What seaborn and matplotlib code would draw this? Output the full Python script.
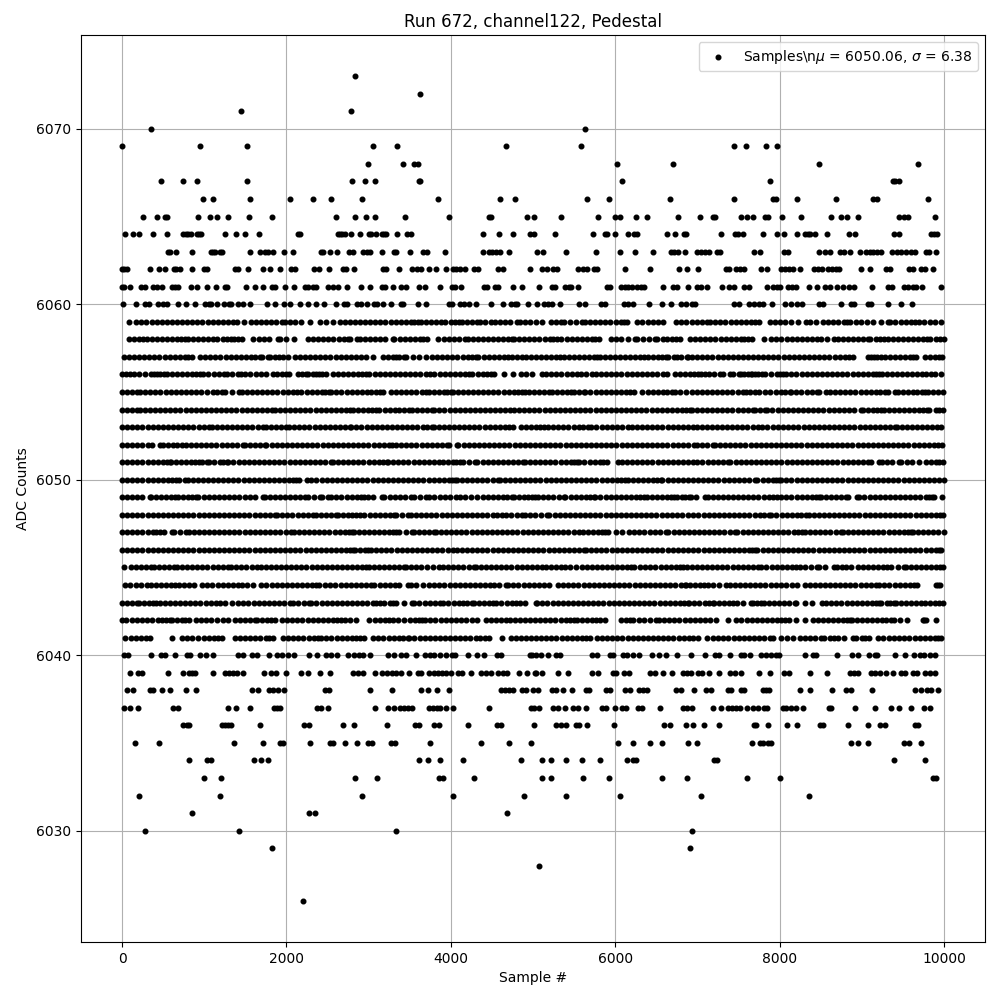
import numpy as np
import pandas as pd
import matplotlib
matplotlib.use('Agg')
import matplotlib.pyplot as plt
import seaborn as sns

# Sample numbers, one list per ADC level
s6073 = [2832]
s6072 = [3620]
s6071 = [1450, 2784]
s6070 = [347, 5633]
s6069 = [0, 953, 1523, 3050, 3341, 4674, 5584, 7451, 7596, 7839, 7972]
s6068 = [2990, 3414, 3547, 3596, 6020, 6699, 8481, 9681]
s6067 = [469, 747, 917, 1523, 2796, 2953, 3074, 3608, 3620, 6081, 7887, 9374, 9410, 9450]
s6066 = [990, 1111, 1559, 2044, 2323, 2541, 2917, 3838, 4602, 4783, 5657, 5924, 6663, 7439, 7919, 7960, 8214, 8687, 9131, 9180, 9802]
s6065 = [250, 420, 525, 550, 929, 1075, 1160, 1293, 1547, 1826, 2602, 2832, 2965, 3074, 3438, 3983, 4464, 4489, 4929, 5014, 5342, 5790, 5996, 6061, 6251, 6384, 6760, 7027, 7184, 7208, 7536, 7608, 7681, 7826, 7863, 8033, 8263, 8626, 8748, 8820, 8954, 9455, 9515, 9564, 9887]
s6064 = [32, 129, 202, 372, 541, 747, 772, 796, 844, 917, 941, 966, 1256, 1390, 1499, 1669, 2141, 2165, 2626, 2650, 2675, 2711, 2784, 2893, 3002, 3026, 3087, 3159, 3184, 3208, 3341, 3462, 3511, 4396, 4589, 4759, 4965, 5014, 5273, 5730, 5875, 5899, 5996, 6154, 6227, 6263, 6627, 6724, 6833, 6857, 7281, 7463, 7499, 7560, 7802, 7972, 8057, 8214, 8311, 8348, 8372, 8432, 8578, 8845, 8917, 9394, 9455, 9838, 9875, 9911]
s6063 = [553, 578, 650, 856, 1087, 1111, 1135, 1196, 1220, 1559, 1681, 1741, 1778, 1838, 1972, 2081, 2420, 2444, 2529, 2614, 2759, 2808, 2929, 2977, 3014, 3159, 3305, 3329, 3499, 3656, 3705, 3923, 4396, 4468, 4505, 4553, 4602, 4711, 5051, 5124, 5402, 5766, 6057, 6239, 6457, 6675, 6711, 6760, 6845, 6990, 7039, 7087, 7136, 7233, 7269, 7693, 7766, 8057, 8105, 8481, 8554, 8614, 8735, 8784, 8857, 8978, 9051, 9099, 9135, 9184, 9232, 9366, 9426, 9475, 9535, 9596, 9644, 9778, 9814, 9899]
s6062 = [0, 24, 60, 335, 444, 517, 626, 650, 707, 856, 1002, 1038, 1378, 1414, 1535, 1717, 1802, 1923, 2056, 2105, 2335, 2396, 2517, 2687, 2723, 2820, 3171, 3208, 3365, 3523, 3583, 3632, 3729, 3814, 3947, 4032, 4068, 4117, 4177, 4286, 4335, 4577, 4638, 4965, 5104, 5172, 5245, 5293, 5548, 5608, 5657, 5742, 5778, 6118, 6421, 6772, 6869, 7002, 7342, 7390, 7475, 7523, 7572, 7778, 7851, 8020, 8069, 8117, 8166, 8251, 8420, 8469, 8517, 8590, 8639, 8687, 8723, 8990, 9103, 9293, 9341, 9572, 9620, 9717, 9766, 9863]
s6061 = [0, 24, 93, 226, 275, 372, 420, 481, 602, 638, 675, 844, 917, 1038, 1147, 1256, 1281, 1511, 1620, 1717, 1826, 1862, 1984, 2093, 2226, 2262, 2323, 2359, 2505, 2565, 2626, 2735, 2905, 3014, 3159, 3196, 3293, 3390, 3450, 3608, 3680, 3874, 4008, 4056, 4129, 4408, 4444, 4541, 4577, 4759, 4868, 5075, 5233, 5269, 5390, 5439, 5463, 5548, 5899, 5936, 6069, 6118, 6154, 6202, 6263, 6311, 6348, 6578, 6699, 6748, 6881, 6990, 7039, 7111, 7305, 7390, 7439, 7572, 7633, 7851, 7923, 7972, 8008, 8105, 8154, 8202, 8360, 8457, 8554, 8614, 8699, 8772, 8845, 8905, 9123, 9317, 9366, 9511, 9560, 9620, 9657, 9729, 9960]
s6060 = [8, 166, 275, 323, 432, 493, 541, 675, 772, 881, 1014, 1063, 1087, 1159, 1244, 1305, 1329, 1414, 1475, 1559, 1766, 1862, 1972, 2044, 2161, 2266, 2359, 2452, 2598, 2699, 2735, 2856, 2905, 2977, 3062, 3099, 3171, 3268, 3390, 3414, 3596, 3693, 3983, 4020, 4117, 4165, 4226, 4311, 4493, 4638, 4735, 4783, 4808, 4941, 5051, 5136, 5184, 5233, 5330, 5560, 5633, 5827, 5875, 6105, 6154, 6215, 6408, 6566, 6675, 6796, 6857, 6930, 6966, 7451, 7511, 7633, 7693, 7754, 7802, 7911, 8069, 8142, 8214, 8275, 8481, 8529, 8748, 8869, 8905, 9075, 9111, 9321, 9475, 9616]
s6059 = [80, 166, 234, 296, 358, 420, 482, 544, 606, 668, 730, 792, 854, 916, 978, 1040, 1102, 1164, 1226, 1288, 1353, 1394, 1487, 1568, 1630, 1692, 1754, 1816, 1878, 1947, 1980, 2044, 2108, 2174, 2287, 2404, 2484, 2565, 2646, 2708, 2770, 2832, 2894, 2956, 3018, 3080, 3142, 3204, 3266, 3328, 3390, 3452, 3514, 3555, 3596, 3637, 3700, 3760, 3820, 3879, 3932, 3999, 4050, 4101, 4134, 4196, 4260, 4324, 4352, 4418, 4485, 4538, 4600, 4662, 4724, 4808, 4841, 4905, 4968, 5031, 5111, 5220, 5285, 5335, 5382, 5455, 5525, 5596, 5629, 5692, 5755, 5818, 5880, 5942, 6004, 6070, 6105, 6142, 6263, 6330, 6395, 6460, 6525, 6586, 6735, 6800, 6865, 6930, 6990, 7050, 7111, 7152, 7215, 7278, 7341, 7404, 7467, 7530, 7593, 7656, 7703, 7750, 7879, 7940, 8005, 8070, 8134, 8222, 8323, 8372, 8445, 8525, 8586, 8650, 8715, 8780, 8820, 8861, 8929, 8990, 9060, 9131, 9232, 9313, 9345, 9410, 9475, 9540, 9600, 9649, 9697, 9760, 9825, 9890, 9960]
s6058 = [80, 140, 200, 250, 303, 364, 426, 488, 550, 612, 674, 720, 768, 796, 858, 920, 982, 1044, 1106, 1160, 1232, 1280, 1321, 1366, 1410, 1454, 1596, 1660, 1725, 1790, 1891, 1919, 2000, 2093, 2262, 2324, 2386, 2448, 2510, 2572, 2634, 2696, 2747, 2776, 2857, 2889, 2951, 3013, 3075, 3137, 3199, 3293, 3314, 3376, 3438, 3500, 3562, 3624, 3665, 3705, 3839, 3920, 3972, 4041, 4105, 4174, 4206, 4268, 4330, 4392, 4454, 4516, 4578, 4640, 4694, 4748, 4768, 4830, 4892, 4954, 5016, 5078, 5140, 5202, 5248, 5293, 5346, 5408, 5470, 5532, 5594, 5656, 5718, 5758, 5798, 5952, 6010, 6073, 6154, 6235, 6263, 6340, 6410, 6485, 6505, 6586, 6626, 6690, 6740, 6788, 6909, 6971, 7033, 7095, 7157, 7219, 7281, 7343, 7405, 7467, 7529, 7572, 7616, 7669, 7806, 7899, 7960, 8022, 8084, 8146, 8208, 8270, 8332, 8394, 8450, 8505, 8578, 8659, 8707, 8769, 8831, 8893, 8955, 9013, 9071, 9103, 9170, 9220, 9273, 9313, 9375, 9437, 9499, 9561, 9623, 9685, 9740, 9798, 9830, 9900, 9950, 9999]
s6057 = [20, 82, 144, 206, 268, 330, 392, 454, 516, 578, 640, 702, 764, 806, 848, 949, 1011, 1073, 1135, 1197, 1259, 1321, 1383, 1445, 1507, 1569, 1623, 1677, 1697, 1778, 1798, 1860, 1910, 1959, 2020, 2101, 2163, 2225, 2287, 2349, 2411, 2473, 2535, 2597, 2659, 2721, 2783, 2845, 2907, 2969, 3050, 3171, 3233, 3295, 3334, 3373, 3435, 3455, 3536, 3617, 3697, 3770, 3832, 3894, 3956, 4018, 4080, 4142, 4204, 4254, 4303, 4336, 4398, 4460, 4522, 4584, 4646, 4693, 4740, 4808, 4860, 4917, 4970, 5032, 5094, 5156, 5218, 5276, 5334, 5374, 5436, 5498, 5560, 5622, 5684, 5746, 5782, 5818, 5871, 5933, 5995, 6057, 6119, 6181, 6243, 6300, 6356, 6396, 6458, 6520, 6567, 6614, 6647, 6710, 6755, 6800, 6869, 6881, 6930, 6992, 7054, 7116, 7178, 7245, 7309, 7366, 7428, 7490, 7552, 7614, 7676, 7738, 7800, 7862, 7924, 7986, 8048, 8110, 8172, 8234, 8296, 8358, 8420, 8482, 8544, 8606, 8668, 8730, 8792, 8840, 8889, 9071, 9110, 9150, 9190, 9232, 9281, 9343, 9405, 9467, 9529, 9591, 9626, 9661, 9766, 9828, 9890, 9935, 9980]
s6056 = [0, 50, 100, 141, 210, 280, 350, 385, 420, 465, 505, 545, 607, 669, 731, 793, 855, 900, 949, 989, 1051, 1113, 1175, 1240, 1273, 1340, 1406, 1442, 1500, 1555, 1628, 1690, 1752, 1838, 1879, 1940, 2000, 2032, 2141, 2190, 2234, 2262, 2324, 2362, 2400, 2438, 2476, 2565, 2627, 2689, 2751, 2813, 2875, 2922, 2969, 3010, 3072, 3134, 3196, 3258, 3320, 3382, 3444, 3506, 3568, 3630, 3692, 3745, 3798, 3867, 3929, 3991, 4053, 4115, 4169, 4223, 4263, 4325, 4387, 4436, 4485, 4530, 4651, 4756, 4857, 4909, 4982, 5111, 5160, 5222, 5284, 5346, 5408, 5470, 5532, 5588, 5645, 5717, 5766, 5828, 5890, 5952, 6014, 6076, 6138, 6200, 6262, 6324, 6386, 6448, 6510, 6586, 6626, 6727, 6790, 6852, 6914, 6962, 7010, 7043, 7091, 7140, 7205, 7273, 7313, 7394, 7435, 7500, 7535, 7570, 7610, 7649, 7665, 7700, 7740, 7780, 7818, 7899, 7965, 8003, 8040, 8081, 8143, 8205, 8267, 8329, 8391, 8453, 8515, 8577, 8639, 8701, 8763, 8825, 8887, 8949, 9011, 9073, 9135, 9174, 9212, 9240, 9302, 9364, 9426, 9488, 9550, 9612, 9675, 9737, 9778, 9838, 9887, 9960]
s6055 = [0, 60, 120, 182, 222, 275, 343, 405, 467, 529, 591, 653, 715, 777, 839, 901, 963, 1030, 1111, 1160, 1212, 1252, 1340, 1426, 1454, 1516, 1578, 1640, 1702, 1766, 1830, 1890, 1952, 2014, 2076, 2129, 2182, 2244, 2306, 2368, 2430, 2474, 2517, 2545, 2607, 2669, 2731, 2793, 2855, 2917, 2974, 3030, 3091, 3135, 3180, 3272, 3334, 3396, 3458, 3520, 3582, 3644, 3697, 3730, 3792, 3854, 3916, 3958, 4000, 4021, 4083, 4145, 4207, 4269, 4331, 4393, 4455, 4517, 4579, 4641, 4703, 4765, 4817, 4869, 4901, 4950, 5012, 5074, 5136, 5200, 5233, 5295, 5357, 5412, 5467, 5495, 5555, 5616, 5636, 5698, 5760, 5822, 5884, 5946, 6008, 6070, 6130, 6182, 6234, 6331, 6393, 6455, 6517, 6579, 6633, 6687, 6727, 6790, 6857, 6930, 6992, 7054, 7116, 7178, 7240, 7302, 7364, 7426, 7488, 7556, 7596, 7637, 7700, 7746, 7826, 7888, 7950, 8012, 8066, 8121, 8142, 8204, 8266, 8328, 8390, 8449, 8485, 8566, 8618, 8675, 8737, 8799, 8861, 8923, 8985, 9047, 9109, 9171, 9226, 9281, 9313, 9402, 9435, 9497, 9559, 9621, 9675, 9729, 9766, 9806, 9868, 9930, 9992]
s6054 = [0, 60, 120, 182, 214, 276, 338, 400, 462, 524, 586, 648, 710, 772, 834, 896, 958, 1020, 1082, 1144, 1206, 1268, 1330, 1392, 1454, 1516, 1578, 1640, 1702, 1764, 1830, 1858, 1920, 1982, 2044, 2106, 2168, 2230, 2292, 2354, 2416, 2478, 2540, 2602, 2664, 2726, 2776, 2808, 2870, 2932, 2994, 3042, 3091, 3131, 3193, 3255, 3317, 3373, 3435, 3495, 3528, 3590, 3652, 3714, 3770, 3798, 3860, 3922, 3984, 4046, 4108, 4170, 4232, 4294, 4356, 4418, 4480, 4542, 4604, 4660, 4715, 4768, 4830, 4892, 4954, 5016, 5078, 5140, 5202, 5264, 5326, 5388, 5450, 5512, 5574, 5636, 5698, 5760, 5822, 5884, 5946, 6008, 6070, 6132, 6194, 6256, 6318, 6380, 6442, 6504, 6566, 6628, 6690, 6752, 6814, 6860, 6909, 6930, 6992, 7054, 7116, 7178, 7240, 7302, 7364, 7426, 7488, 7550, 7612, 7677, 7705, 7765, 7826, 7851, 7913, 7975, 8037, 8099, 8161, 8223, 8285, 8347, 8409, 8471, 8533, 8595, 8657, 8719, 8781, 8843, 8905, 8990, 9010, 9072, 9134, 9183, 9232, 9265, 9327, 9389, 9451, 9513, 9575, 9637, 9699, 9748, 9798, 9818, 9899, 9940, 9992]
s6053 = [0, 62, 124, 186, 248, 310, 372, 434, 496, 558, 620, 682, 744, 806, 868, 930, 992, 1062, 1090, 1152, 1214, 1276, 1338, 1400, 1462, 1524, 1586, 1648, 1717, 1745, 1807, 1869, 1935, 2000, 2032, 2094, 2156, 2218, 2280, 2342, 2404, 2466, 2528, 2590, 2652, 2710, 2767, 2788, 2850, 2912, 2974, 3036, 3098, 3160, 3222, 3284, 3346, 3408, 3470, 3532, 3594, 3656, 3713, 3770, 3790, 3852, 3914, 3976, 4038, 4100, 4162, 4224, 4286, 4348, 4410, 4472, 4534, 4596, 4658, 4709, 4760, 4849, 4911, 4973, 5035, 5083, 5132, 5184, 5245, 5307, 5369, 5431, 5493, 5555, 5610, 5665, 5709, 5771, 5833, 5895, 5957, 6019, 6085, 6154, 6202, 6264, 6326, 6388, 6450, 6512, 6574, 6636, 6698, 6760, 6822, 6889, 6950, 6990, 7051, 7113, 7175, 7237, 7299, 7361, 7423, 7485, 7547, 7609, 7671, 7733, 7790, 7847, 7919, 7981, 8043, 8105, 8167, 8229, 8291, 8353, 8415, 8477, 8539, 8601, 8663, 8725, 8787, 8849, 8911, 8973, 9035, 9097, 9159, 9221, 9283, 9342, 9402, 9426, 9488, 9550, 9612, 9674, 9736, 9798, 9860, 9910, 9960]
s6052 = [0, 62, 124, 186, 248, 315, 364, 465, 497, 559, 621, 674, 727, 776, 838, 900, 962, 1024, 1086, 1148, 1210, 1272, 1334, 1396, 1475, 1499, 1561, 1623, 1680, 1737, 1757, 1819, 1881, 1943, 2005, 2067, 2129, 2191, 2253, 2315, 2377, 2439, 2501, 2563, 2625, 2687, 2749, 2811, 2873, 2935, 2997, 3059, 3121, 3183, 3245, 3289, 3333, 3395, 3457, 3519, 3581, 3643, 3705, 3767, 3829, 3888, 3948, 3980, 4077, 4093, 4155, 4217, 4279, 4341, 4403, 4465, 4527, 4589, 4651, 4713, 4775, 4837, 4899, 4961, 5023, 5085, 5147, 5209, 5271, 5333, 5395, 5457, 5519, 5581, 5643, 5705, 5767, 5829, 5891, 5953, 6015, 6077, 6139, 6201, 6263, 6325, 6387, 6449, 6511, 6573, 6635, 6697, 6759, 6821, 6889, 6962, 6990, 7051, 7113, 7184, 7212, 7274, 7336, 7398, 7460, 7522, 7584, 7646, 7708, 7770, 7832, 7894, 7956, 8018, 8080, 8142, 8204, 8266, 8328, 8390, 8452, 8514, 8576, 8638, 8700, 8762, 8824, 8886, 8948, 9010, 9072, 9134, 9196, 9258, 9320, 9382, 9444, 9506, 9568, 9630, 9692, 9754, 9816, 9878, 9930, 9980]
s6051 = [0, 62, 124, 186, 248, 310, 372, 434, 496, 541, 586, 594, 656, 718, 780, 842, 891, 941, 970, 1038, 1062, 1124, 1186, 1230, 1273, 1293, 1355, 1417, 1479, 1541, 1603, 1665, 1727, 1789, 1851, 1913, 1975, 2037, 2099, 2161, 2223, 2285, 2347, 2409, 2471, 2545, 2565, 2627, 2689, 2751, 2813, 2875, 2937, 2999, 3061, 3123, 3171, 3220, 3236, 3298, 3360, 3422, 3484, 3546, 3608, 3670, 3732, 3794, 3851, 3899, 3961, 4023, 4068, 4114, 4150, 4220, 4291, 4324, 4386, 4448, 4510, 4572, 4634, 4696, 4758, 4817, 4877, 4901, 4963, 5025, 5087, 5149, 5211, 5273, 5335, 5397, 5459, 5497, 5536, 5564, 5626, 5688, 5750, 5812, 5857, 5903, 6033, 6081, 6143, 6205, 6267, 6329, 6391, 6453, 6515, 6577, 6639, 6701, 6763, 6825, 6887, 6949, 7000, 7051, 7123, 7185, 7247, 7310, 7374, 7402, 7464, 7526, 7588, 7650, 7712, 7774, 7836, 7898, 7960, 8022, 8084, 8146, 8208, 8270, 8332, 8394, 8456, 8518, 8580, 8642, 8704, 8766, 8828, 8890, 8952, 9011, 9071, 9111, 9212, 9240, 9302, 9364, 9455, 9483, 9545, 9616, 9697, 9778, 9840, 9902, 9945, 9988]
s6050 = [0, 62, 124, 186, 248, 310, 372, 434, 496, 558, 608, 659, 687, 768, 796, 858, 920, 982, 1044, 1106, 1168, 1230, 1292, 1354, 1416, 1478, 1540, 1602, 1664, 1726, 1788, 1850, 1912, 1974, 2036, 2078, 2121, 2149, 2250, 2303, 2365, 2427, 2489, 2551, 2613, 2675, 2737, 2799, 2861, 2923, 2985, 3047, 3109, 3171, 3233, 3295, 3357, 3419, 3481, 3543, 3605, 3667, 3729, 3791, 3853, 3915, 3977, 4015, 4053, 4073, 4135, 4197, 4259, 4321, 4383, 4445, 4511, 4578, 4594, 4656, 4718, 4780, 4842, 4904, 4966, 5028, 5090, 5152, 5214, 5276, 5338, 5400, 5462, 5524, 5586, 5648, 5710, 5772, 5834, 5896, 5958, 6020, 6070, 6121, 6154, 6216, 6278, 6340, 6402, 6464, 6511, 6558, 6574, 6636, 6698, 6760, 6822, 6884, 6946, 7008, 7070, 7132, 7194, 7256, 7318, 7380, 7442, 7504, 7566, 7628, 7697, 7730, 7792, 7854, 7916, 7953, 7990, 8020, 8082, 8144, 8206, 8268, 8330, 8392, 8454, 8516, 8578, 8640, 8702, 8764, 8826, 8888, 8950, 9012, 9074, 9136, 9198, 9260, 9322, 9384, 9446, 9508, 9570, 9632, 9694, 9756, 9818, 9880, 9942, 9999]
s6049 = [0, 62, 124, 186, 248, 335, 351, 413, 475, 537, 590, 646, 675, 737, 799, 850, 901, 929, 991, 1053, 1115, 1177, 1239, 1301, 1363, 1425, 1490, 1555, 1616, 1717, 1737, 1799, 1861, 1923, 1985, 2047, 2109, 2165, 2222, 2262, 2330, 2404, 2436, 2505, 2545, 2607, 2669, 2731, 2793, 2855, 2902, 2949, 2989, 3051, 3163, 3192, 3254, 3316, 3378, 3440, 3516, 3556, 3630, 3697, 3738, 3800, 3862, 3924, 3992, 4061, 4110, 4175, 4243, 4324, 4386, 4448, 4510, 4572, 4634, 4687, 4740, 4772, 4834, 4896, 4943, 4990, 5022, 5059, 5121, 5183, 5245, 5310, 5374, 5394, 5456, 5518, 5580, 5642, 5690, 5738, 5758, 5820, 5882, 5944, 6006, 6068, 6130, 6192, 6254, 6305, 6356, 6384, 6446, 6508, 6570, 6630, 6680, 6719, 6747, 6809, 6853, 6897, 6922, 6984, 7091, 7123, 7185, 7247, 7309, 7371, 7433, 7495, 7557, 7619, 7681, 7743, 7805, 7867, 7920, 7972, 8020, 8082, 8144, 8206, 8268, 8330, 8392, 8438, 8485, 8505, 8567, 8629, 8691, 8750, 8808, 8837, 8942, 8970, 9032, 9094, 9156, 9218, 9280, 9342, 9404, 9466, 9528, 9590, 9652, 9714, 9776, 9818, 9859, 9879, 9980]
s6048 = [0, 62, 124, 186, 248, 310, 372, 434, 496, 558, 620, 682, 744, 806, 868, 930, 992, 1054, 1116, 1178, 1240, 1302, 1364, 1426, 1488, 1550, 1612, 1674, 1736, 1797, 1858, 1887, 1949, 2011, 2073, 2135, 2197, 2260, 2323, 2356, 2420, 2484, 2541, 2598, 2626, 2688, 2750, 2799, 2848, 2897, 2949, 3011, 3073, 3135, 3197, 3259, 3314, 3334, 3400, 3475, 3515, 3577, 3639, 3701, 3763, 3825, 3887, 3949, 4011, 4073, 4135, 4197, 4259, 4321, 4383, 4445, 4507, 4567, 4627, 4667, 4729, 4799, 4869, 4901, 4963, 5025, 5098, 5172, 5200, 5262, 5324, 5386, 5448, 5510, 5572, 5634, 5696, 5758, 5820, 5882, 5944, 6006, 6068, 6130, 6192, 6254, 6316, 6378, 6440, 6502, 6564, 6626, 6688, 6750, 6812, 6889, 6951, 7013, 7075, 7137, 7199, 7261, 7323, 7385, 7447, 7509, 7571, 7633, 7695, 7757, 7812, 7867, 7899, 7961, 8023, 8085, 8147, 8209, 8266, 8323, 8352, 8414, 8476, 8538, 8600, 8662, 8724, 8786, 8848, 8910, 8972, 9034, 9096, 9158, 9220, 9282, 9344, 9406, 9468, 9530, 9592, 9654, 9716, 9778, 9840, 9902, 9947, 9992]
s6047 = [0, 62, 124, 186, 248, 310, 372, 418, 465, 505, 606, 626, 700, 780, 808, 870, 932, 994, 1056, 1118, 1180, 1242, 1304, 1366, 1428, 1490, 1552, 1614, 1676, 1738, 1800, 1862, 1924, 1992, 2060, 2089, 2151, 2213, 2275, 2337, 2399, 2461, 2523, 2585, 2647, 2709, 2755, 2800, 2816, 2878, 2940, 3002, 3064, 3126, 3188, 3250, 3291, 3333, 3366, 3450, 3528, 3548, 3610, 3672, 3735, 3798, 3818, 3880, 3942, 4004, 4066, 4128, 4190, 4252, 4314, 4376, 4438, 4500, 4562, 4624, 4686, 4748, 4810, 4872, 4934, 4996, 5058, 5120, 5182, 5244, 5306, 5368, 5430, 5497, 5564, 5604, 5666, 5728, 5790, 5835, 5879, 5911, 6012, 6081, 6170, 6232, 6294, 6356, 6418, 6480, 6547, 6614, 6647, 6709, 6771, 6833, 6895, 6957, 7019, 7081, 7143, 7205, 7267, 7329, 7396, 7463, 7487, 7549, 7611, 7673, 7735, 7797, 7859, 7921, 7983, 8045, 8107, 8169, 8220, 8271, 8303, 8365, 8427, 8489, 8551, 8613, 8680, 8748, 8768, 8830, 8892, 8954, 9016, 9078, 9140, 9202, 9264, 9326, 9388, 9450, 9512, 9558, 9604, 9620, 9682, 9744, 9806, 9868, 9930, 9999]
s6046 = [0, 62, 124, 186, 248, 310, 372, 434, 496, 558, 620, 682, 744, 806, 868, 930, 992, 1054, 1116, 1178, 1240, 1302, 1364, 1426, 1488, 1550, 1612, 1674, 1736, 1798, 1860, 1922, 1984, 2046, 2108, 2170, 2232, 2294, 2356, 2418, 2480, 2542, 2604, 2666, 2728, 2768, 2808, 2828, 2890, 2952, 2991, 3030, 3091, 3153, 3215, 3277, 3339, 3401, 3463, 3525, 3587, 3649, 3711, 3773, 3835, 3897, 3963, 4029, 4073, 4135, 4197, 4259, 4321, 4383, 4445, 4507, 4569, 4631, 4693, 4755, 4817, 4879, 4941, 5003, 5065, 5127, 5189, 5251, 5313, 5375, 5437, 5499, 5557, 5616, 5645, 5707, 5769, 5831, 5893, 5955, 6017, 6079, 6141, 6203, 6265, 6327, 6389, 6451, 6513, 6575, 6637, 6699, 6761, 6823, 6889, 6951, 7013, 7075, 7137, 7199, 7261, 7323, 7385, 7447, 7509, 7571, 7633, 7669, 7705, 7730, 7792, 7854, 7916, 7978, 8040, 8102, 8164, 8226, 8288, 8350, 8412, 8474, 8536, 8598, 8660, 8722, 8784, 8846, 8908, 8970, 9032, 9094, 9156, 9218, 9280, 9342, 9404, 9466, 9528, 9590, 9652, 9714, 9776, 9838, 9900, 9934, 9968]
s6045 = [20, 109, 170, 230, 290, 351, 392, 450, 510, 570, 626, 667, 729, 791, 853, 915, 977, 1039, 1101, 1163, 1225, 1293, 1321, 1383, 1445, 1507, 1575, 1644, 1685, 1747, 1809, 1871, 1933, 1995, 2057, 2119, 2181, 2243, 2305, 2367, 2429, 2491, 2553, 2615, 2677, 2739, 2801, 2863, 2916, 2969, 3002, 3064, 3126, 3188, 3250, 3312, 3373, 3427, 3455, 3517, 3579, 3641, 3710, 3778, 3850, 3899, 3961, 4023, 4085, 4147, 4215, 4283, 4303, 4365, 4427, 4489, 4551, 4613, 4675, 4737, 4799, 4861, 4923, 4985, 5044, 5103, 5152, 5214, 5276, 5335, 5394, 5455, 5528, 5590, 5652, 5714, 5776, 5838, 5900, 5960, 6020, 6082, 6144, 6187, 6230, 6303, 6365, 6427, 6489, 6551, 6613, 6675, 6737, 6782, 6828, 6869, 6931, 6993, 7055, 7117, 7179, 7241, 7303, 7365, 7427, 7489, 7551, 7613, 7675, 7738, 7778, 7840, 7902, 7964, 8026, 8088, 8145, 8202, 8247, 8311, 8380, 8457, 8485, 8550, 8667, 8695, 8757, 8813, 8869, 8950, 9012, 9074, 9136, 9198, 9260, 9307, 9354, 9435, 9515, 9536, 9598, 9660, 9722, 9784, 9846, 9908, 9948, 9988]
s6044 = [40, 100, 165, 230, 303, 351, 413, 475, 537, 590, 646, 687, 749, 811, 877, 970, 1038, 1100, 1162, 1224, 1286, 1348, 1414, 1454, 1520, 1588, 1685, 1757, 1819, 1881, 1943, 2005, 2067, 2129, 2191, 2253, 2315, 2355, 2396, 2472, 2534, 2596, 2658, 2720, 2782, 2844, 2906, 2968, 3030, 3070, 3132, 3194, 3256, 3318, 3373, 3475, 3516, 3576, 3657, 3738, 3798, 3860, 3922, 3984, 4046, 4108, 4170, 4232, 4294, 4356, 4418, 4472, 4526, 4586, 4675, 4699, 4761, 4823, 4885, 4947, 5009, 5071, 5131, 5192, 5305, 5367, 5429, 5491, 5553, 5615, 5677, 5739, 5801, 5863, 5925, 5987, 6049, 6111, 6173, 6235, 6297, 6359, 6421, 6483, 6545, 6607, 6667, 6727, 6796, 6861, 6849, 6911, 6973, 7035, 7083, 7132, 7184, 7261, 7346, 7394, 7456, 7518, 7580, 7642, 7704, 7766, 7828, 7890, 7952, 8014, 8076, 8145, 8214, 8303, 8365, 8427, 8489, 8551, 8613, 8675, 8737, 8799, 8861, 8923, 8985, 9047, 9110, 9172, 9212, 9274, 9336, 9398, 9460, 9522, 9584, 9630, 9677, 9900, 9925, 9950]
s6043 = [0, 60, 120, 182, 202, 264, 326, 371, 416, 457, 519, 581, 643, 705, 767, 829, 891, 953, 1015, 1077, 1139, 1195, 1252, 1333, 1414, 1476, 1538, 1600, 1662, 1724, 1786, 1848, 1910, 1975, 2040, 2081, 2143, 2208, 2274, 2303, 2365, 2427, 2489, 2551, 2613, 2675, 2737, 2799, 2861, 2923, 2985, 3047, 3095, 3143, 3192, 3254, 3293, 3334, 3435, 3528, 3556, 3618, 3680, 3742, 3806, 3871, 3907, 3969, 4035, 4101, 4142, 4198, 4255, 4283, 4345, 4407, 4460, 4513, 4554, 4616, 4678, 4740, 4788, 4837, 4901, 5031, 5051, 5113, 5175, 5237, 5299, 5361, 5423, 5485, 5547, 5609, 5671, 5733, 5795, 5857, 5919, 5981, 6043, 6105, 6167, 6229, 6291, 6353, 6415, 6477, 6539, 6601, 6663, 6725, 6787, 6838, 6889, 6901, 6963, 7025, 7087, 7140, 7192, 7204, 7266, 7328, 7390, 7436, 7483, 7556, 7657, 7677, 7723, 7770, 7810, 7872, 7934, 7996, 8058, 8120, 8182, 8202, 8303, 8396, 8517, 8566, 8628, 8690, 8752, 8814, 8876, 8938, 9000, 9062, 9124, 9168, 9212, 9232, 9305, 9345, 9394, 9414, 9476, 9538, 9600, 9662, 9717, 9766, 9828, 9890, 9940, 9992]
s6042 = [0, 52, 121, 183, 245, 307, 369, 431, 490, 535, 578, 606, 668, 730, 770, 808, 897, 959, 1021, 1083, 1150, 1224, 1293, 1374, 1436, 1498, 1557, 1616, 1636, 1698, 1760, 1810, 1858, 1947, 2009, 2071, 2133, 2195, 2257, 2319, 2381, 2443, 2505, 2567, 2617, 2667, 2707, 2769, 2840, 3010, 3072, 3134, 3193, 3252, 3293, 3354, 3435, 3503, 3565, 3607, 3649, 3689, 3751, 3813, 3875, 3937, 3999, 4061, 4122, 4184, 4254, 4324, 4425, 4487, 4549, 4612, 4675, 4715, 4777, 4839, 4901, 4963, 5025, 5087, 5149, 5211, 5273, 5335, 5397, 5446, 5495, 5536, 5598, 5660, 5720, 5770, 5818, 5879, 6073, 6130, 6182, 6222, 6284, 6346, 6420, 6493, 6533, 6595, 6657, 6719, 6781, 6843, 6905, 6967, 7029, 7091, 7153, 7220, 7374, 7467, 7536, 7598, 7660, 7722, 7784, 7846, 7908, 7970, 8015, 8061, 8109, 8202, 8311, 8404, 8466, 8528, 8590, 8652, 8714, 8775, 8820, 8861, 8877, 8939, 9001, 9063, 9125, 9187, 9250, 9300, 9354, 9394, 9470, 9548, 9740, 9760, 9780, 9899]
s6041 = [40, 105, 170, 235, 290, 343, 602, 727, 788, 848, 929, 991, 1053, 1115, 1164, 1212, 1374, 1436, 1498, 1560, 1622, 1684, 1746, 1792, 1838, 1959, 2021, 2083, 2145, 2207, 2269, 2330, 2380, 2424, 2485, 2547, 2609, 2671, 2733, 2795, 2850, 2900, 2949, 3050, 3110, 3171, 3244, 3306, 3368, 3420, 3474, 3495, 3557, 3619, 3681, 3743, 3805, 3867, 3929, 3991, 4053, 4115, 4177, 4239, 4301, 4360, 4410, 4464, 4626, 4727, 4789, 4851, 4913, 4975, 5037, 5099, 5161, 5223, 5285, 5347, 5409, 5471, 5533, 5595, 5646, 5697, 5778, 5840, 5902, 5964, 6026, 6088, 6150, 6212, 6274, 6336, 6398, 6460, 6522, 6584, 6646, 6708, 6770, 6832, 6894, 6950, 7010, 7111, 7192, 7254, 7316, 7378, 7440, 7502, 7564, 7626, 7688, 7750, 7815, 7879, 7919, 8020, 8090, 8162, 8243, 8305, 8367, 8435, 8505, 8546, 8608, 8660, 8707, 8788, 8889, 8929, 9000, 9045, 9091, 9192, 9260, 9333, 9394, 9456, 9518, 9580, 9642, 9704, 9766, 9828, 9890, 9925, 9960]
s6040 = [20, 69, 347, 469, 517, 638, 784, 832, 953, 1026, 1111, 1414, 1475, 1584, 1644, 1790, 1887, 1947, 2020, 2093, 2275, 2371, 2481, 2541, 2614, 2747, 2820, 2880, 2929, 3014, 3232, 3305, 3390, 3450, 3571, 3680, 3741, 3790, 3862, 3947, 4008, 4056, 4214, 4323, 4408, 4565, 4614, 4965, 4990, 5039, 5100, 5184, 5281, 5330, 5718, 5778, 5936, 5972, 6093, 6142, 6215, 6287, 6445, 6530, 6614, 6748, 6917, 7087, 7208, 7257, 7402, 7536, 7572, 7645, 7778, 7839, 7899, 7960, 7996, 8311, 8408, 8445, 8699, 8881, 8954, 9087, 9160, 9184, 9402, 9531, 9632, 9705, 9753, 9826, 9887]
s6039 = [93, 190, 238, 553, 735, 820, 856, 893, 1111, 1256, 1305, 1353, 1402, 1475, 1729, 1814, 1875, 1996, 2178, 2262, 2408, 2529, 2808, 2868, 2929, 3074, 3159, 3220, 3281, 3329, 3390, 3487, 3596, 3632, 3729, 3790, 3838, 3887, 3947, 3996, 4093, 4141, 4250, 4371, 4432, 4493, 4577, 4638, 4686, 4832, 4929, 5026, 5039, 5112, 5305, 5427, 5718, 5790, 5972, 6008, 6105, 6166, 6421, 6481, 6578, 6687, 6821, 6869, 6917, 7002, 7051, 7136, 7257, 7402, 7463, 7536, 7754, 7887, 8057, 8117, 8372, 8578, 8857, 8905, 8954, 9111, 9160, 9220, 9293, 9378, 9475, 9523, 9620, 9669, 9766, 9826, 9887]
s6038 = [57, 129, 335, 372, 481, 578, 772, 905, 1584, 1656, 1790, 1838, 1899, 1972, 2468, 2517, 3014, 3281, 3632, 3717, 3826, 3983, 4614, 4662, 4711, 4759, 4868, 4917, 5003, 5063, 5233, 5281, 5366, 5475, 5645, 5681, 5887, 5936, 6118, 6178, 6287, 6336, 6384, 6736, 6796, 6962, 7099, 7160, 7378, 7414, 7536, 7572, 7802, 7839, 7875, 8251, 8372, 8639, 8808, 8869, 9123, 9645, 9717, 9790, 9838, 9923]
s6037 = [20, 93, 190, 614, 675, 1293, 1390, 1559, 1850, 1887, 1923, 2371, 2420, 2505, 3074, 3232, 3305, 3377, 3426, 3474, 3523, 3729, 3777, 3826, 3874, 3947, 4032, 4468, 4977, 5015, 5075, 5245, 5305, 5390, 5487, 5548, 5645, 5839, 5887, 5996, 6081, 6130, 6275, 6324, 6542, 6820, 6869, 6930, 7184, 7281, 7378, 7426, 7475, 7523, 7608, 7681, 7742, 7814, 7851, 8045, 8081, 8142, 8202, 8287, 8602, 8626, 8917, 9160, 9354, 9451, 9596, 9753, 9826]
s6036 = [747, 784, 820, 1220, 1256, 1293, 1329, 1681, 2214, 2275, 2687, 2820, 3220, 3559, 3608, 3790, 3850, 4214, 4565, 4614, 5015, 5281, 5342, 5402, 5524, 5560, 5657, 5984, 6590, 6663, 6857, 6942, 7075, 7257, 7693, 7717, 7863, 8093, 8214, 8497, 8529, 8832, 9075, 9220, 9281, 9644, 9681]
s6035 = [154, 444, 1366, 1717, 1923, 1959, 2287, 2529, 2565, 2711, 2856, 2990, 3038, 3268, 3317, 3741, 4371, 4711, 4978, 6033, 6215, 6421, 6566, 6881, 6990, 7669, 7766, 7802, 7863, 7899, 8869, 8954, 9075, 9511, 9572, 9717]
s6034 = [808, 1038, 1087, 1608, 1693, 1778, 3608, 3717, 3874, 4153, 4856, 5112, 5221, 5402, 5596, 5815, 6142, 6215, 6251, 7196, 7233, 9390, 9766]
s6033 = [1002, 1208, 2832, 3099, 3850, 3899, 4286, 5112, 5221, 5609, 5924, 6566, 6869, 7608, 8008, 9863, 9899]
s6032 = [202, 1196, 2917, 4032, 4892, 5402, 6057, 7039, 8360]
s6031 = [856, 2275, 2347, 4686]
s6030 = [275, 1426, 3329, 6930]
s6029 = [1826, 6905]
s6028 = [5075]
s6026 = [2202]

levels = [6073, 6072, 6071, 6070, 6069, 6068, 6067, 6066, 6065, 6064, 6063, 6062, 6061, 6060,
          6059, 6058, 6057, 6056, 6055, 6054, 6053, 6052, 6051, 6050, 6049, 6048, 6047, 6046,
          6045, 6044, 6043, 6042, 6041, 6040, 6039, 6038, 6037, 6036, 6035, 6034, 6033, 6032,
          6031, 6030, 6029, 6028, 6026]
rows = [s6073, s6072, s6071, s6070, s6069, s6068, s6067, s6066, s6065, s6064, s6063, s6062, s6061, s6060,
        s6059, s6058, s6057, s6056, s6055, s6054, s6053, s6052, s6051, s6050, s6049, s6048, s6047, s6046,
        s6045, s6044, s6043, s6042, s6041, s6040, s6039, s6038, s6037, s6036, s6035, s6034, s6033, s6032,
        s6031, s6030, s6029, s6028, s6026]

data = pd.DataFrame({
    'sample': np.concatenate(rows),
    'adc': np.repeat(levels, [len(r) for r in rows]),
})

fig, ax = plt.subplots(figsize=(10, 10))
sns.scatterplot(data=data, x='sample', y='adc', color='k', marker='.', s=44, linewidth=1,
                edgecolor='k', zorder=2, ax=ax,
                label='Samples\\n$\\mu$ = 6050.06, $\\sigma$ = 6.38')
ax.grid(True)
ax.set_title('Run 672, channel122, Pedestal')
ax.set_xlabel('Sample #')
ax.set_ylabel('ADC Counts')
ax.legend(loc='upper right')
fig.subplots_adjust(left=0.081, right=0.985, top=0.965, bottom=0.058)
fig.savefig('out.png', dpi=100)
